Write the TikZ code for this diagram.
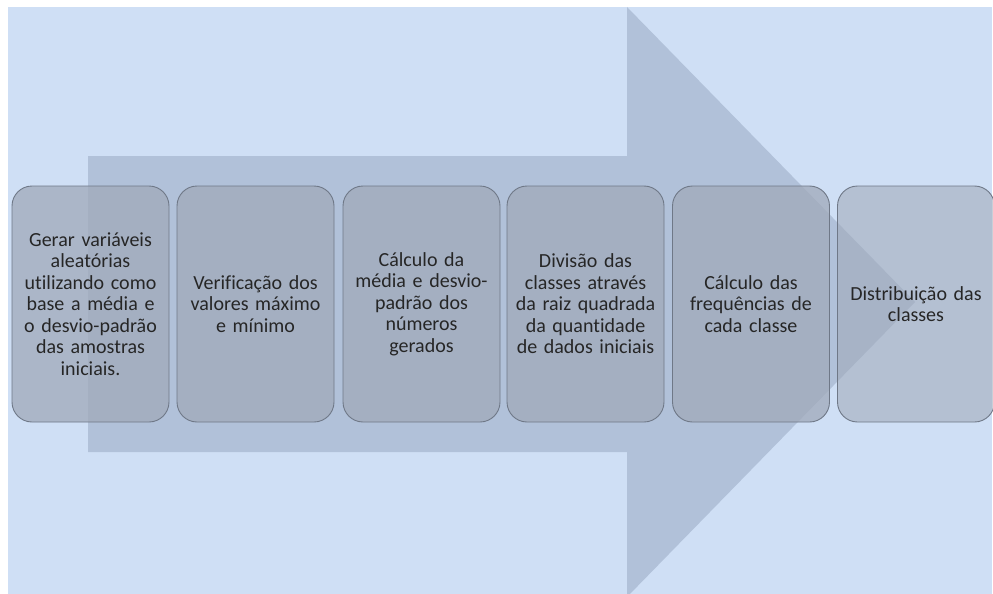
\documentclass[tikz,border=0pt]{standalone}
\usepackage{fontspec}
\setmainfont{Carlito}[Ligatures=NoCommon]
\definecolor{bgblue}{HTML}{CFDFF5}
\definecolor{arrowblue}{HTML}{B1C1D9}
\definecolor{boxgray}{RGB}{160,169,185}
\definecolor{boxline}{HTML}{6F7887}
\definecolor{txt}{HTML}{262626}
\begin{document}
\begin{tikzpicture}[x=1pt,y=-1pt,
  stepbox/.style={draw=boxline, line width=0.9pt, rounded corners=20pt,
    fill=boxgray, fill opacity=0.75, text opacity=1,
    minimum width=157pt, minimum height=236pt, text width=154pt,
    align=center, inner sep=0pt, text=txt,
    font=\fontsize{20}{21.5}\selectfont},
  laststep/.style={stepbox, fill opacity=0.57}]
\useasboundingbox (0,0) rectangle (993,594);
\clip (0,0) rectangle (993,594);
% background panel
\fill[bgblue] (8,7) rectangle (992,594);
% big arrow
\fill[arrowblue] (88,156) -- (627,156) -- (627,7) -- (915,302) -- (627,597)
  -- (627,452) -- (88,452) -- cycle;
% steps
\node[stepbox] (b1) at (90.5,304) {Gerar variáveis\\aleatórias\\utilizando como\\base a média e\\o desvio-padrão\\das amostras\\iniciais.};
\node[stepbox] (b2) at (255.5,304) {Verificação dos\\valores máximo\\e mínimo};
\node[stepbox] (b3) at (421.5,304) {Cálculo da\\média e desvio-\\padrão dos\\números\\gerados};
\node[stepbox] (b4) at (585.5,304) {Divisão das\\classes através\\da raiz quadrada\\da quantidade\\de dados iniciais};
\node[stepbox] (b5) at (751,304) {Cálculo das\\frequências de\\cada classe};
\node[laststep] (b6) at (916,304) {Distribuição das\\classes};
\end{tikzpicture}
\end{document}
